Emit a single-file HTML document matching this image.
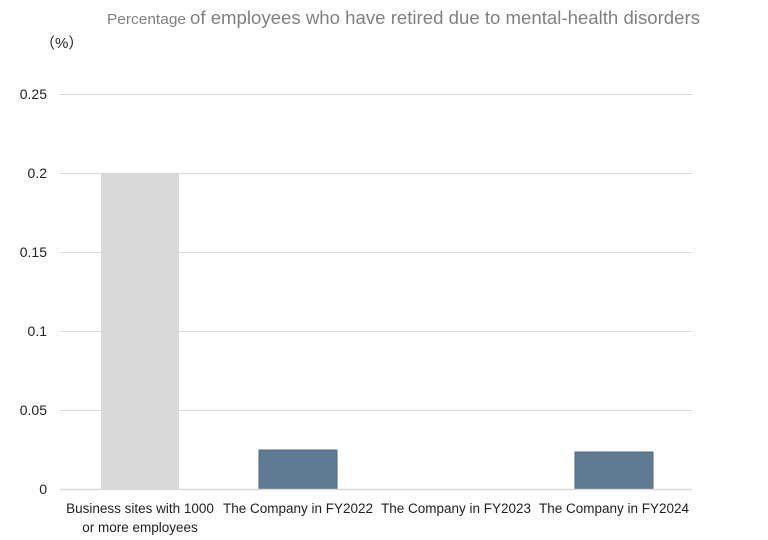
<!DOCTYPE html>
<html><head><style>
html,body{margin:0;padding:0;background:#fff;width:768px;height:540px;overflow:hidden}
svg text{font-family:"Liberation Sans","DejaVu Sans",sans-serif}
</style></head><body>
<svg width="768" height="540" xmlns="http://www.w3.org/2000/svg">
<text x="107" y="24" font-size="14.5" fill="#808080" textLength="79" lengthAdjust="spacingAndGlyphs">Percentage</text>
<text x="190" y="24" font-size="18" fill="#808080" textLength="510" lengthAdjust="spacingAndGlyphs">of employees who have retired due to mental-health disorders</text>
<text x="40" y="48" font-size="15" fill="#222">（%）</text>
<g stroke="#d9d9d9" stroke-width="1">
<line x1="60" y1="94.5" x2="692" y2="94.5"/>
<line x1="60" y1="173.5" x2="692" y2="173.5"/>
<line x1="60" y1="252.5" x2="692" y2="252.5"/>
<line x1="60" y1="331.5" x2="692" y2="331.5"/>
<line x1="60" y1="410.5" x2="692" y2="410.5"/>
</g>
<rect x="101" y="173" width="78" height="316" fill="#d9d9d9"/>
<rect x="259" y="450" width="78" height="39" fill="#5f7b92" stroke="#4f6a80" stroke-width="1"/>
<rect x="575" y="452" width="78" height="37" fill="#5f7b92" stroke="#4f6a80" stroke-width="1"/>
<line x1="60" y1="489.5" x2="692" y2="489.5" stroke="#d9d9d9" stroke-width="1.5"/>
<g font-size="14" fill="#222" text-anchor="end">
<text x="47" y="99">0.25</text>
<text x="47" y="178">0.2</text>
<text x="47" y="257">0.15</text>
<text x="47" y="336">0.1</text>
<text x="47" y="415">0.05</text>
<text x="47" y="494">0</text>
</g>
<g font-size="13.5" fill="#222" text-anchor="middle">
<text x="140" y="513">Business sites with 1000</text>
<text x="140" y="532">or more employees</text>
<text x="298" y="513">The Company in FY2022</text>
<text x="456" y="513">The Company in FY2023</text>
<text x="614" y="513">The Company in FY2024</text>
</g>
</svg>
</body></html>
